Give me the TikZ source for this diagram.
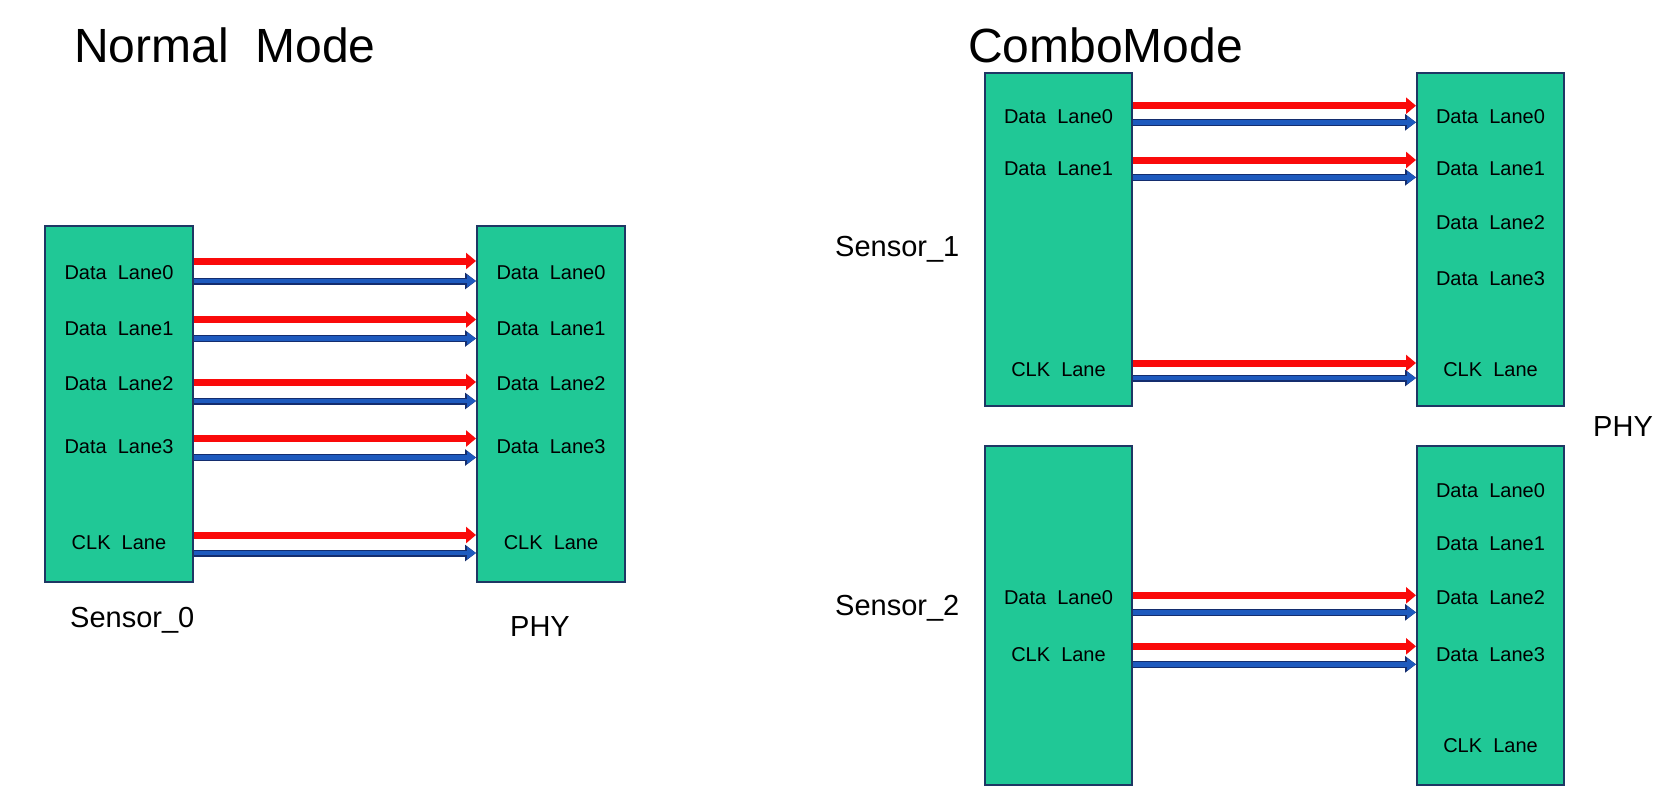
\documentclass[tikz,border=0pt]{standalone}
\usepackage{fontspec}
\setmainfont{Liberation Sans}
\usetikzlibrary{arrows.meta}
\definecolor{boxfill}{RGB}{32,200,150}
\definecolor{boxline}{RGB}{30,55,100}
\definecolor{lanered}{RGB}{250,10,10}
\definecolor{laneblue}{RGB}{30,90,190}
\definecolor{lanenavy}{RGB}{20,45,110}
\begin{document}
\begin{tikzpicture}[x=1pt,y=-1pt,
  chip/.style={draw=boxline, fill=boxfill, line width=2pt, anchor=north west, inner sep=0pt},
  lbl/.style={font=\fontsize{20}{24}\selectfont, inner sep=0pt},
  titletext/.style={font=\fontsize{48}{56}\selectfont, anchor=base west, inner sep=0pt},
  nametext/.style={font=\fontsize{29}{34}\selectfont, anchor=base west, inner sep=0pt},
  redlane/.style={draw=lanered, line width=7pt, -{Triangle[length=10pt,width=16pt]}},
  bluelane/.style={draw=laneblue, line width=4.5pt, -{Triangle[length=9pt,width=12pt]},
    preaction={draw=lanenavy, line width=7pt, -{Triangle[length=11pt,width=16pt]}}}
]
\useasboundingbox[fill=white] (0,0) rectangle (1664,809);

% titles
\node[titletext] (t1) at (74,62) {Normal\ \ Mode};
\node[titletext] (t2) at (968,62) {ComboMode};

% ---------- Normal mode ----------
\node[chip, minimum width=148pt, minimum height=356pt] (s0) at (44,225) {};
\node[chip, minimum width=148pt, minimum height=356pt] (p0) at (476,225) {};

\foreach \n/\y/\t in {a/272.7/Data\ \ Lane0, b/329/Data\ \ Lane1, c/384/Data\ \ Lane2, d/446.8/Data\ \ Lane3, e/542.3/CLK\ \ Lane}{
  \node[lbl] (s0\n) at (s0.north |- 0,\y) {\t};
  \node[lbl] (p0\n) at (p0.north |- 0,\y) {\t};
}
\foreach \r/\b in {261/281, 319.5/338.5, 382/401, 438.5/457.5, 535/553}{
  \draw[redlane] (s0.east |- 0,\r) -- (p0.west |- 0,\r);
  \draw[bluelane] (s0.east |- 0,\b) -- (p0.west |- 0,\b);
}
\node[nametext] (n0) at (70,627) {Sensor\_0};
\node[nametext] (n1) at (510,636) {PHY};

% ---------- Combo mode ----------
\node[chip, minimum width=147pt, minimum height=333.5pt] (s1) at (984,71.5) {};
\node[chip, minimum width=147pt, minimum height=333.5pt] (p1) at (1416,71.5) {};
\node[chip, minimum width=147pt, minimum height=339pt] (s2) at (984,445) {};
\node[chip, minimum width=147pt, minimum height=339pt] (p2) at (1416,445) {};

\node[lbl] (s1a) at (s1.north |- 0,116.7) {Data\ \ Lane0};
\node[lbl] (s1b) at (s1.north |- 0,168.7) {Data\ \ Lane1};
\node[lbl] (s1e) at (s1.north |- 0,369.3) {CLK\ \ Lane};

\foreach \n/\y/\t in {a/116.7/Data\ \ Lane0, b/168.7/Data\ \ Lane1, c/222.9/Data\ \ Lane2, d/279/Data\ \ Lane3, e/369.3/CLK\ \ Lane}{
  \node[lbl] (p1\n) at (p1.north |- 0,\y) {\t};
}
\foreach \n/\y/\t in {a/490.3/Data\ \ Lane0, b/543.3/Data\ \ Lane1, c/597.5/Data\ \ Lane2, d/654.7/Data\ \ Lane3, e/746/CLK\ \ Lane}{
  \node[lbl] (p2\n) at (p2.north |- 0,\y) {\t};
}
\node[lbl] (s2a) at (s2.north |- 0,597.5) {Data\ \ Lane0};
\node[lbl] (s2e) at (s2.north |- 0,654.7) {CLK\ \ Lane};

\foreach \r/\b in {105.7/122.3, 160/177.3, 363/378}{
  \draw[redlane] (s1.east |- 0,\r) -- (p1.west |- 0,\r);
  \draw[bluelane] (s1.east |- 0,\b) -- (p1.west |- 0,\b);
}
\foreach \r/\b in {595.3/612.3, 646.3/664.3}{
  \draw[redlane] (s2.east |- 0,\r) -- (p2.west |- 0,\r);
  \draw[bluelane] (s2.east |- 0,\b) -- (p2.west |- 0,\b);
}

\node[nametext] (n2) at (835,256.7) {Sensor\_1};
\node[nametext] (n3) at (835,615.7) {Sensor\_2};
\node[nametext] (n4) at (1593,436.7) {PHY};
\end{tikzpicture}
\end{document}
